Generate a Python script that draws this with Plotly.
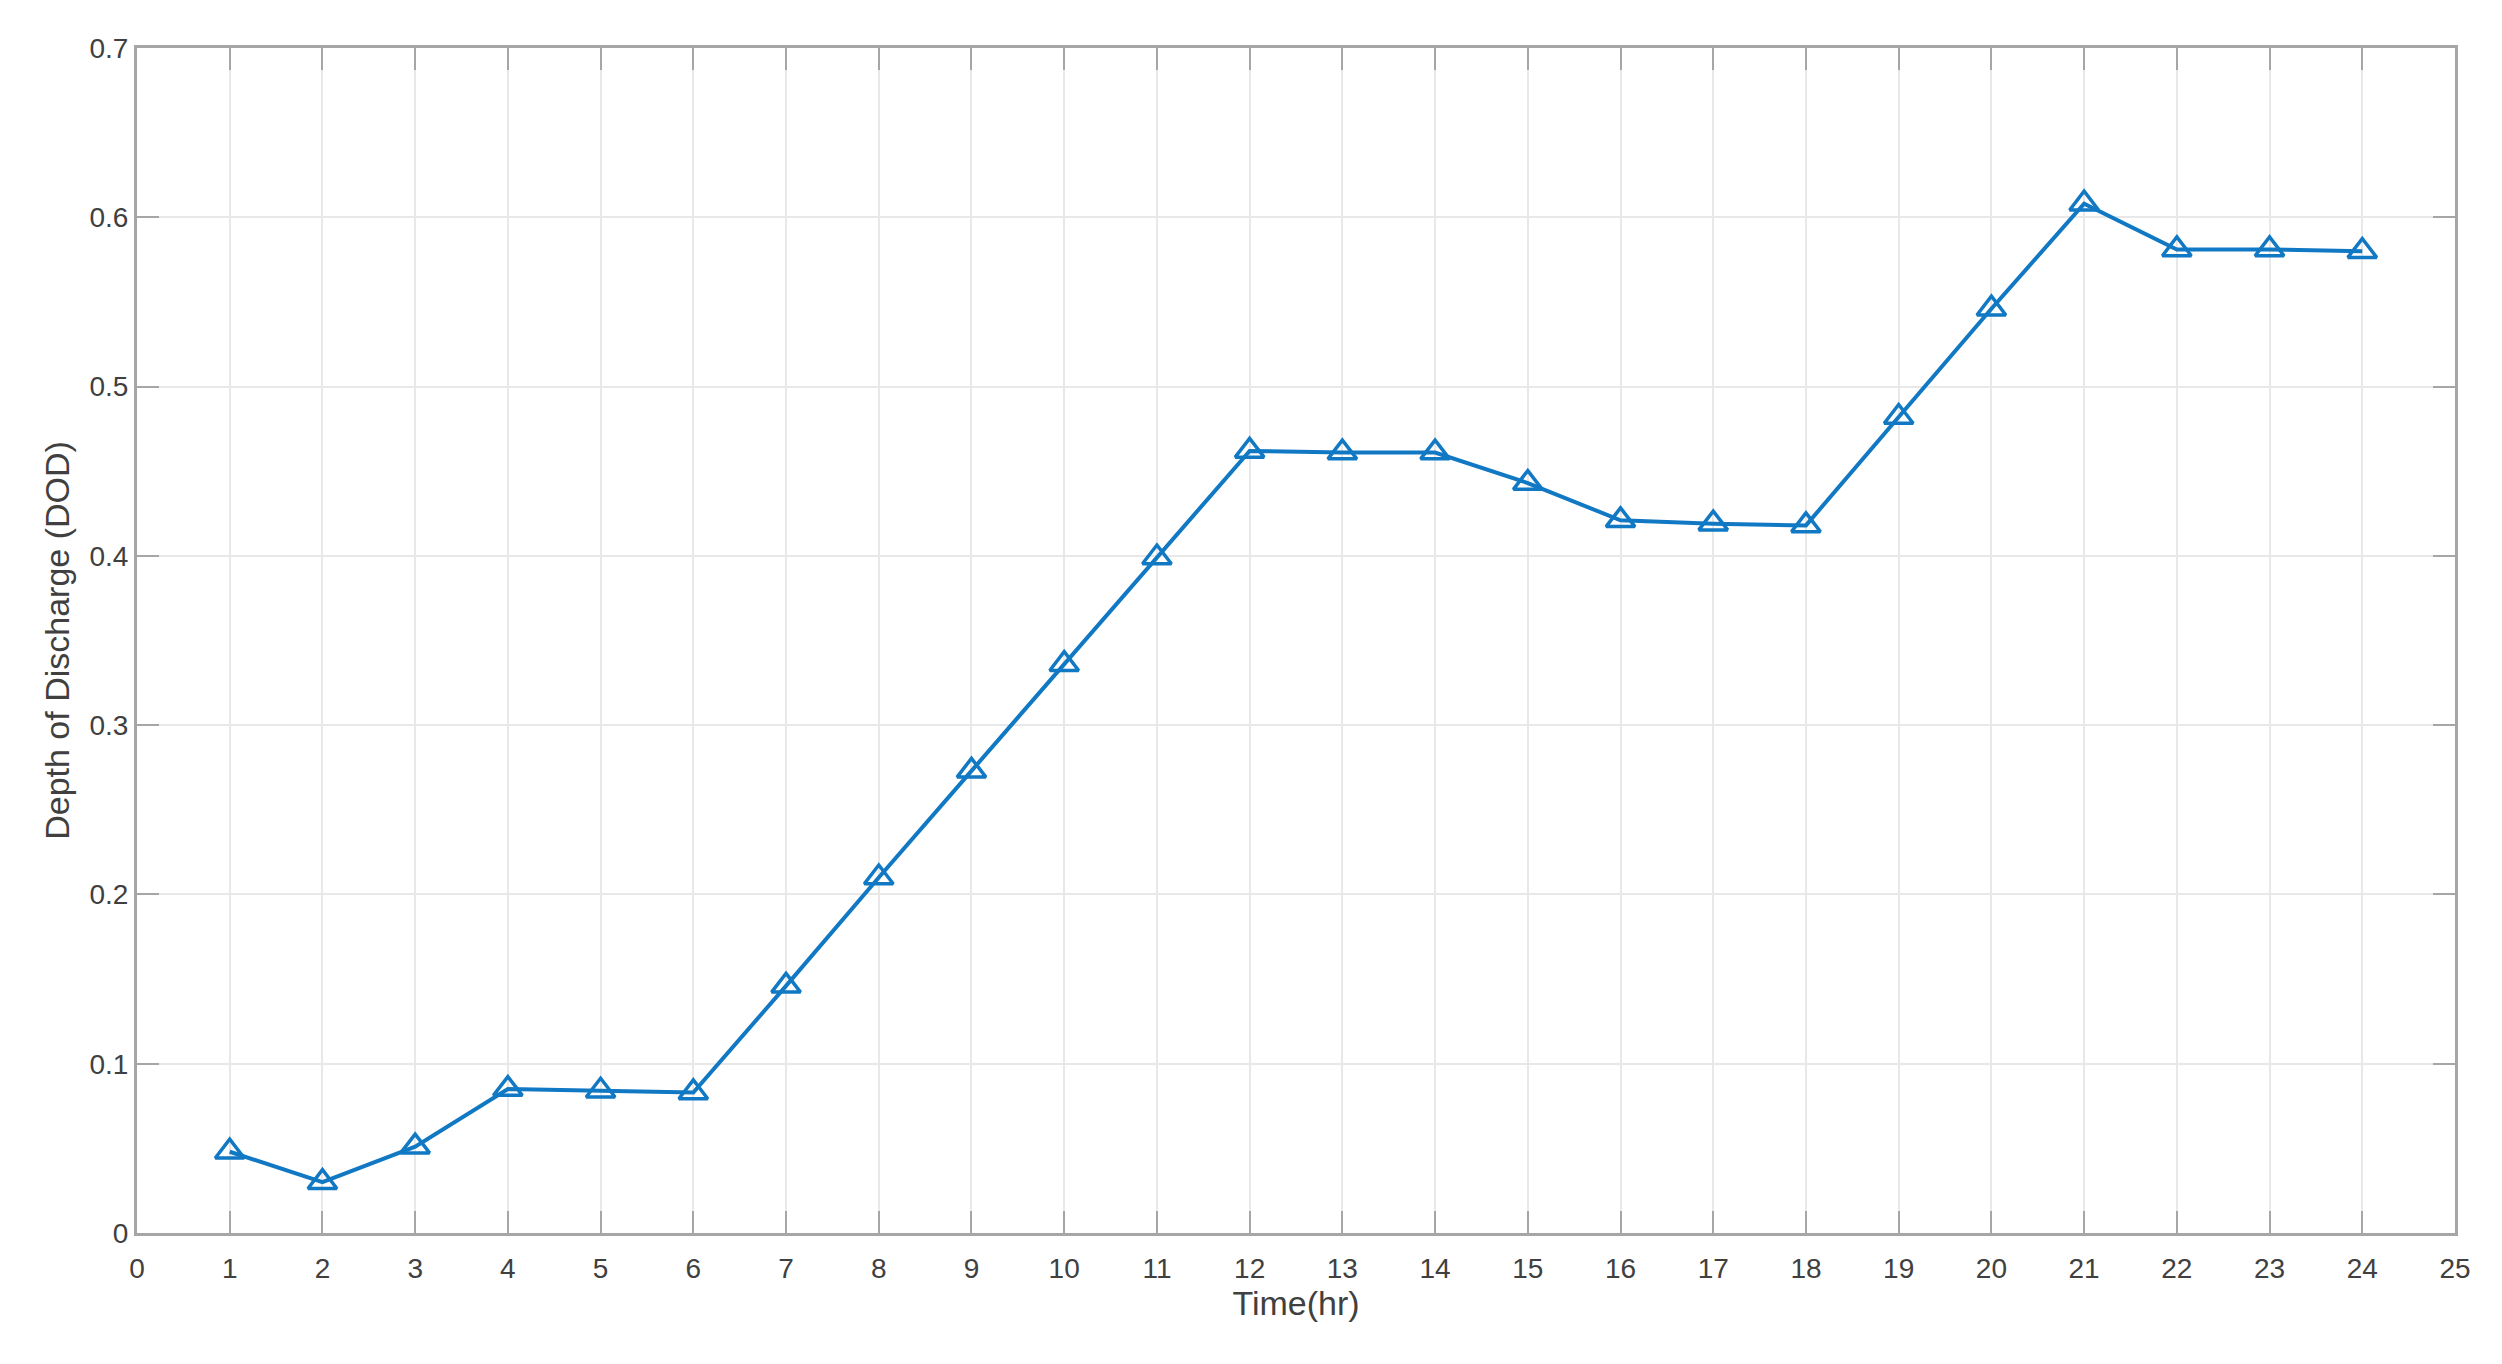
import plotly.graph_objects as go

# hourly depth of discharge
hours = list(range(1, 25))
dod = [0.048, 0.030, 0.051, 0.085, 0.084, 0.083, 0.146, 0.210,
       0.273, 0.336, 0.399, 0.462, 0.461, 0.461, 0.443, 0.421,
       0.419, 0.418, 0.482, 0.546, 0.608, 0.581, 0.581, 0.580]

x_ticks = list(range(0, 26))
y_ticks = [0, 0.1, 0.2, 0.3, 0.4, 0.5, 0.6, 0.7]

BLUE = "#1178c4"
AXIS = "#a6a6a6"
GRID = "#e8e8e8"
TXT = "#404040"
FONT = "Liberation Sans, Arial, sans-serif"

fig = go.Figure()
fig.add_trace(go.Scatter(
    x=hours, y=dod, mode="lines+markers",
    line=dict(color=BLUE, width=4),
    marker=dict(symbol="triangle-up-open", size=25, color=BLUE,
                line=dict(color=BLUE, width=3.5)),
    showlegend=False,
))

axis_common = dict(
    showline=True, linecolor=AXIS, linewidth=3, mirror="ticks",
    ticks="inside", ticklen=22, tickwidth=2, tickcolor=AXIS,
    showgrid=True, gridcolor=GRID, gridwidth=2, zeroline=False,
    tickfont=dict(family=FONT, size=28, color=TXT),
)

# page body has an 8px margin, so the figure is drawn slightly smaller
fig.update_layout(
    width=2486, height=1348,
    paper_bgcolor="white", plot_bgcolor="white",
    margin=dict(l=129, r=39, t=40, b=123),
    font=dict(family=FONT, color=TXT),
    xaxis=dict(range=[0, 25], tickvals=x_ticks,
               title=dict(text="Time(hr)", font=dict(size=34, color=TXT), standoff=4),
               ticklabelstandoff=8, **axis_common),
    yaxis=dict(range=[0, 0.7], tickvals=y_ticks,
               ticktext=[f"{v:g}" for v in y_ticks],
               title=dict(text="Depth of Discharge (DOD)", font=dict(size=34, color=TXT), standoff=10),
               **axis_common),
)

fig.write_html("out.html")
